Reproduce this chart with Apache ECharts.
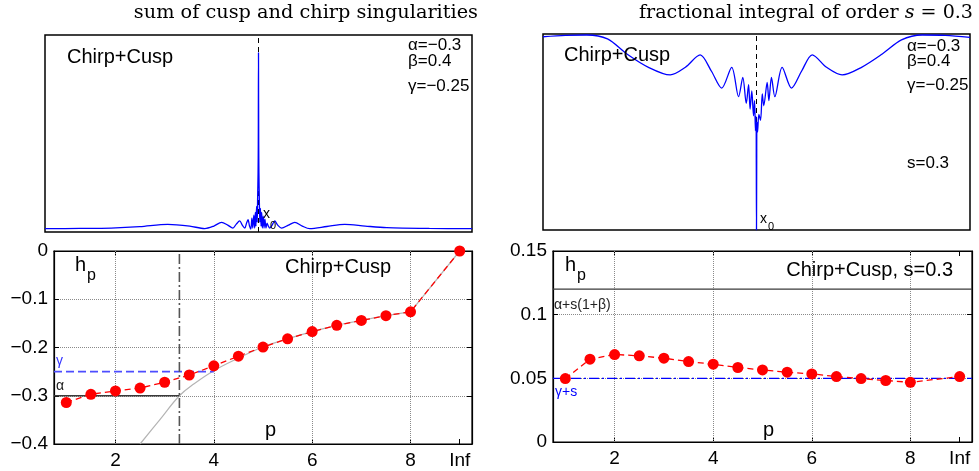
<!DOCTYPE html>
<html><head><meta charset="utf-8">
<script src="https://cdn.jsdelivr.net/npm/echarts@6/dist/echarts.min.js"></script>
<style>html,body{margin:0;padding:0;background:#fff}#c{width:979px;height:471px}</style>
</head><body><div id="c"></div>
<script>
// ---- data ----
const pValues = [1, 1.5, 2, 2.5, 3, 3.5, 4, 4.5, 5, 5.5, 6, 6.5, 7, 7.5, 8, 9]; // 9 stands for Inf
const hpSignal = [-0.314, -0.297, -0.290, -0.284, -0.272, -0.257, -0.238, -0.218, -0.199, -0.182, -0.167, -0.154, -0.144, -0.134, -0.126, 0];
const hpIntegral = [0.0498, 0.0650, 0.0687, 0.0677, 0.0658, 0.0632, 0.0611, 0.0585, 0.0566, 0.0548, 0.0535, 0.0514, 0.0498, 0.0483, 0.0469, 0.0514];
const theoryP = [2.5, 2.9, 3.3, 3.6, 4, 4.5, 5, 5.5, 6, 6.5, 7, 7.5, 8];
const theoryH = [-0.4, -0.35, -0.3, -0.275, -0.248, -0.222, -0.199, -0.182, -0.167, -0.154, -0.144, -0.134, -0.126];
const theoryInfP = [8, 9];
const theoryInfH = [-0.126, 0];
const alpha = -0.3, beta = 0.4, gamma = -0.25, sOrder = 0.3;
const pCritical = 3.3;
const gammaLineEnd = 4;
const pMin = 0.75, pMax = 9.25;
const xTickValues = [2, 4, 6, 8, 9];
const xTickLabels = ['2', '4', '6', '8', 'Inf'];
const xGridValues = [2, 4, 6, 8];
const x0 = 0;

const signalX = [-1, -0.836, -0.69, -0.556, -0.425, -0.322, -0.252, -0.209, -0.173, -0.144, -0.12, -0.104, -0.088, -0.076, -0.064, -0.056, -0.049, -0.042, -0.036, -0.031, -0.027, -0.022, -0.018, -0.015, -0.012, -0.009, -0.006, -0.004, -0.002, -0.001, 0,
  0.001, 0.002, 0.004, 0.006, 0.009, 0.012, 0.015, 0.018, 0.022, 0.026, 0.030, 0.035, 0.040, 0.046, 0.053, 0.064, 0.076, 0.09, 0.108, 0.14, 0.17, 0.205, 0.24, 0.32, 0.404, 0.5, 0.6, 0.8, 1.0];
const signalY = [0.017, 0.018, 0.02, 0.027, 0.039, 0.03, 0.017, 0.03, 0.049, 0.035, 0.02, 0.04, 0.056, 0.035, 0.02, 0.045, 0.063, 0.03, 0.015, 0.07, 0.02, 0.085, 0.02, 0.1, 0.03, 0.13, 0.05, 0.18, 0.3, 0.45, 0.91,
  0.45, 0.3, 0.16, 0.05, 0.12, 0.03, 0.1, 0.02, 0.08, 0.02, 0.065, 0.02, 0.045, 0.03, 0.02, 0.035, 0.056, 0.035, 0.02, 0.035, 0.049, 0.03, 0.017, 0.028, 0.039, 0.03, 0.022, 0.018, 0.017];

const integralX = [-1, -0.895, -0.795, -0.698, -0.607, -0.506, -0.404, -0.333, -0.264, -0.211, -0.163, -0.116, -0.084, -0.064, -0.048, -0.037, -0.030, -0.022, -0.014, -0.009, -0.005, -0.002, -0.001, 0,
  0.001, 0.002, 0.005, 0.011, 0.019, 0.027, 0.034, 0.05, 0.058, 0.07, 0.086, 0.12, 0.164, 0.211, 0.261, 0.328, 0.401, 0.492, 0.589, 0.679, 0.776, 0.885, 1.0];
const integralY = [0.986, 0.993, 0.995, 0.975, 0.898, 0.83, 0.791, 0.83, 0.893, 0.81, 0.724, 0.83, 0.68, 0.779, 0.646, 0.741, 0.617, 0.71, 0.583, 0.66, 0.507, 0.58, 0.35, 0,
  0.35, 0.55, 0.5, 0.59, 0.56, 0.694, 0.634, 0.753, 0.66, 0.779, 0.68, 0.83, 0.724, 0.81, 0.894, 0.83, 0.791, 0.83, 0.898, 0.97, 0.995, 0.993, 0.983];

// ---- helpers ----
const zip = (a, b) => a.map((v, i) => [v, b[i]]);
const fmtY = v => { const r = Math.round(v * 1000) / 1000; return r < 0 ? '\u2212' + String(-r) : String(r); };
const SANS = '"Liberation Sans", Arial, sans-serif';
const SERIF = '"DejaVu Serif", serif';
const upper = alpha + sOrder * (1 + beta);
const lower = gamma + sOrder;

function pAxis(grid, pos, labels) {
  return {
    type: 'value', gridIndex: grid, position: pos, min: pMin, max: pMax,
    axisLine: { show: true, onZero: false, lineStyle: { color: '#000', width: 1.2 } },
    axisTick: { show: true, inside: true, length: 5, customValues: xTickValues, lineStyle: { color: '#000', width: 1 } },
    axisLabel: { show: labels, customValues: xTickValues, margin: 7, color: '#000', fontSize: 19, fontFamily: SANS,
      formatter: v => xTickLabels[xTickValues.indexOf(v)] ?? '' },
    splitLine: { show: false }
  };
}
function hAxis(grid, pos, labels, min, max, interval, split) {
  return {
    type: 'value', gridIndex: grid, position: pos, min, max, interval,
    axisLine: { show: true, onZero: false, lineStyle: { color: '#000', width: 1.2 } },
    axisTick: { show: true, inside: true, length: 5, lineStyle: { color: '#000', width: 1 } },
    axisLabel: { show: labels, margin: 6, color: '#000', fontSize: 19, fontFamily: SANS, formatter: fmtY },
    splitLine: { show: split, lineStyle: { color: '#8a8a8a', type: 'dotted', width: 1 } }
  };
}
const gridMarks = {
  silent: true, symbol: ['none', 'none'], label: { show: false },
  lineStyle: { color: '#8a8a8a', type: 'dotted', width: 1 },
  data: xGridValues.map(v => ({ xAxis: v }))
};
const redSeries = (xi, yi, vals) => ({
  type: 'line', xAxisIndex: xi, yAxisIndex: yi, data: zip(pValues, vals), z: 10,
  symbol: 'circle', symbolSize: 11, itemStyle: { color: '#ff0000' },
  lineStyle: { color: '#ff0000', width: 1.3, type: [6, 4] }
});

function txt(x, y, text, size, opts = {}) {
  return { type: 'text', x, y, z: 100, silent: true,
    style: Object.assign({ text, font: size + 'px ' + SANS, fill: '#000', textAlign: 'left', textVerticalAlign: 'middle' }, opts) };
}

const chart = echarts.init(document.getElementById('c'), null, { renderer: 'canvas' });
chart.setOption({
  animation: false,
  backgroundColor: '#fff',
  grid: [
    { left: 45, top: 35, width: 427, height: 197, show: true, borderColor: '#000', borderWidth: 1.5, backgroundColor: 'transparent' },
    { left: 543, top: 34, width: 427, height: 196, show: true, borderColor: '#000', borderWidth: 1.5, backgroundColor: 'transparent' },
    { left: 54, top: 251, width: 418, height: 193, show: true, borderColor: '#000', borderWidth: 1.2, backgroundColor: 'transparent' },
    { left: 553, top: 251, width: 419, height: 191, show: true, borderColor: '#000', borderWidth: 1.2, backgroundColor: 'transparent' }
  ],
  xAxis: [
    { type: 'value', gridIndex: 0, min: -1, max: 1, show: false },
    { type: 'value', gridIndex: 1, min: -1, max: 1, show: false },
    pAxis(2, 'bottom', true), pAxis(2, 'top', false),
    pAxis(3, 'bottom', true), pAxis(3, 'top', false)
  ],
  yAxis: [
    { type: 'value', gridIndex: 0, min: 0, max: 1, show: false },
    { type: 'value', gridIndex: 1, min: 0, max: 1, show: false },
    hAxis(2, 'left', true, -0.4, 0, 0.1, true), hAxis(2, 'right', false, -0.4, 0, 0.1, false),
    hAxis(3, 'left', true, 0, 0.15, 0.05, true), hAxis(3, 'right', false, 0, 0.15, 0.05, false)
  ],
  series: [
    // top-left signal
    { type: 'line', xAxisIndex: 0, yAxisIndex: 0, data: [[x0, 0], [x0, 1]], showSymbol: false, silent: true,
      lineStyle: { color: '#000', width: 1, type: [5, 4] }, z: 2 },
    { type: 'line', xAxisIndex: 0, yAxisIndex: 0, data: zip(signalX, signalY), showSymbol: false, smooth: 0.3,
      lineStyle: { color: '#0000ff', width: 1.3 }, z: 3 },
    // top-right signal
    { type: 'line', xAxisIndex: 1, yAxisIndex: 1, data: [[x0, 0], [x0, 1]], showSymbol: false, silent: true,
      lineStyle: { color: '#000', width: 1, type: [5, 4] }, z: 2 },
    { type: 'line', xAxisIndex: 1, yAxisIndex: 1, data: zip(integralX, integralY), showSymbol: false, smooth: 0.3,
      lineStyle: { color: '#0000ff', width: 1.3 }, z: 3 },
    // bottom-left
    { type: 'line', xAxisIndex: 2, yAxisIndex: 2, data: zip(theoryP, theoryH), showSymbol: false, smooth: 0.4,
      lineStyle: { color: '#b4b4b4', width: 1.2 }, z: 4 },
    { type: 'line', xAxisIndex: 2, yAxisIndex: 2, data: zip(theoryInfP, theoryInfH), showSymbol: false,
      lineStyle: { color: '#b4b4b4', width: 1.2 }, z: 4 },
    { type: 'line', xAxisIndex: 2, yAxisIndex: 2, data: [[pMin, alpha], [pCritical, alpha]], showSymbol: false,
      lineStyle: { color: '#3a3a3a', width: 1.6 }, z: 5, markLine: gridMarks },
    { type: 'line', xAxisIndex: 2, yAxisIndex: 2, data: [[pMin, gamma], [gammaLineEnd, gamma]], showSymbol: false,
      lineStyle: { color: '#4d4dff', width: 1.6, type: [8, 4] }, z: 5 },
    { type: 'line', xAxisIndex: 2, yAxisIndex: 2, data: [[pCritical, -0.4], [pCritical, 0]], showSymbol: false,
      lineStyle: { color: '#555', width: 1.6, type: [10, 3, 2, 3] }, z: 5 },
    redSeries(2, 2, hpSignal),
    // bottom-right
    { type: 'line', xAxisIndex: 4, yAxisIndex: 4, data: [[pMin, upper], [pMax, upper]], showSymbol: false,
      lineStyle: { color: '#3a3a3a', width: 1.3 }, z: 5, markLine: gridMarks },
    { type: 'line', xAxisIndex: 4, yAxisIndex: 4, data: [[pMin, lower], [pMax, lower]], showSymbol: false,
      lineStyle: { color: '#0000ff', width: 1.2, type: [10, 3, 2, 3] }, z: 5 },
    redSeries(4, 4, hpIntegral)
  ],
  graphic: [
    // titles
    { type: 'text', x: 478, y: 13, z: 100, silent: true,
      style: { text: 'sum of cusp and chirp singularities', font: '19.3px ' + SERIF, fill: '#000', textAlign: 'right', textVerticalAlign: 'middle' } },
    { type: 'text', x: 973, y: 13, z: 100, silent: true,
      style: { text: '{r|fractional integral of order }{i|s}{r| = 0.3}', textAlign: 'right', textVerticalAlign: 'middle',
        rich: { r: { font: '19.1px ' + SERIF, fill: '#000' }, i: { font: 'italic 19.1px ' + SERIF, fill: '#000' } } } },
    // top-left labels
    txt(67, 57, 'Chirp+Cusp', 20),
    txt(408, 45, 'α=−0.3', 17), txt(408, 61, 'β=0.4', 17), txt(408, 86, 'γ=−0.25', 17),
    txt(263, 214, 'x', 14), txt(270, 226, '0', 11),
    // top-right labels
    txt(564, 55, 'Chirp+Cusp', 20),
    txt(907, 46, 'α=−0.3', 17), txt(907, 61, 'β=0.4', 17), txt(907, 85, 'γ=−0.25', 17), txt(907, 163, 's=0.3', 17),
    txt(760, 219, 'x', 14), txt(768, 227, '0', 11),
    // bottom-left labels
    txt(75, 265, 'h', 20), txt(87, 276, 'p', 16),
    txt(285, 267, 'Chirp+Cusp', 20),
    txt(56, 361, 'γ', 14, { fill: '#3333ff' }), txt(56, 386, 'α', 14, { fill: '#222' }),
    txt(265, 430, 'p', 20),
    // bottom-right labels
    txt(565, 265, 'h', 20), txt(577, 276, 'p', 16),
    txt(953, 270, 'Chirp+Cusp, s=0.3', 20, { textAlign: 'right' }),
    txt(554, 305, 'α+s(1+β)', 14, { fill: '#222' }),
    txt(555, 392, 'γ+s', 14, { fill: '#0000ff' }),
    txt(763, 430, 'p', 20)
  ]
});
</script></body></html>
